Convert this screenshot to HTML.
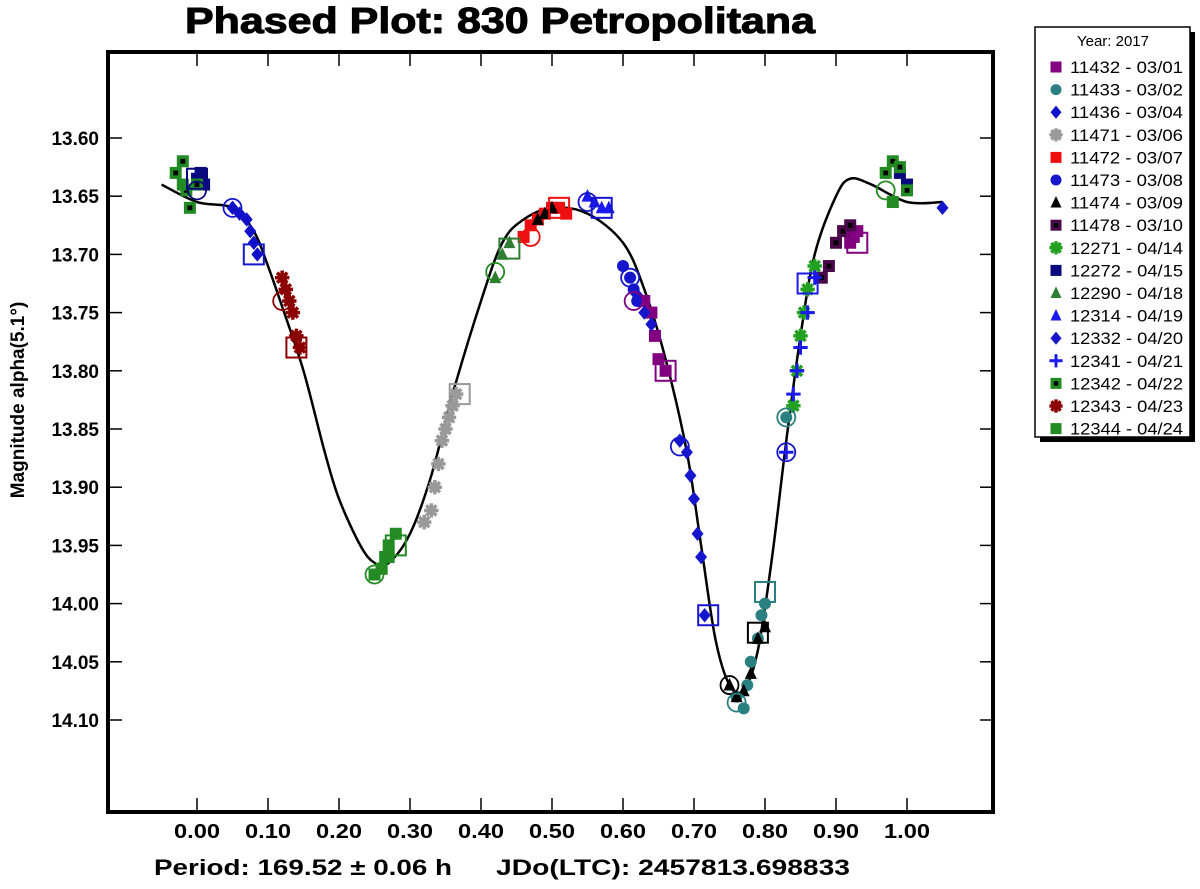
<!DOCTYPE html>
<html><head><meta charset="utf-8"><style>
html,body{margin:0;padding:0;background:#fff;}
svg{display:block;font-family:"Liberation Sans",Arial,sans-serif;}
</style></head><body>
<svg id="chart" width="1200" height="889" viewBox="0 0 1200 889" xmlns="http://www.w3.org/2000/svg">
<text x="185" y="33" font-size="36" font-weight="bold" textLength="630" lengthAdjust="spacingAndGlyphs" stroke="#000" stroke-width="1">Phased Plot: 830 Petropolitana</text>
<rect x="108" y="52" width="885" height="760" fill="none" stroke="#000" stroke-width="4"/>
<g id="ticks"></g>
<g id="curve"></g>
<g id="marks"></g>
<text transform="translate(24,400) rotate(-90)" text-anchor="middle" font-size="19" font-weight="bold">Magnitude alpha(5.1°)</text>
<text x="154" y="875" font-size="22" font-weight="bold" textLength="298" lengthAdjust="spacingAndGlyphs">Period: 169.52 ± 0.06 h</text>
<text x="496" y="875" font-size="22" font-weight="bold" textLength="354" lengthAdjust="spacingAndGlyphs">JDo(LTC): 2457813.698833</text>
<g id="legend">
<rect x="1040" y="32" width="155" height="410" fill="#000"/>
<rect x="1035" y="27" width="155" height="410" fill="#fff" stroke="#000" stroke-width="1.5"/>
<text x="1113" y="46" font-size="15" text-anchor="middle">Year: 2017</text>
</g>
</svg>
<script>
const xTicks=[0,0.1,0.2,0.3,0.4,0.5,0.6,0.7,0.8,0.9,1.0];
const xTickLabels=["0.00","0.10","0.20","0.30","0.40","0.50","0.60","0.70","0.80","0.90","1.00"];
const yTicks=[13.60,13.65,13.70,13.75,13.80,13.85,13.90,13.95,14.00,14.05,14.10];
const yTickLabels=["13.60","13.65","13.70","13.75","13.80","13.85","13.90","13.95","14.00","14.05","14.10"];
const curvePhase=[-0.05,0,0.05,0.08,0.1,0.12,0.15,0.18,0.2,0.23,0.25,0.27,0.3,0.33,0.36,0.4,0.43,0.46,0.5,0.55,0.6,0.63,0.66,0.69,0.71,0.73,0.75,0.77,0.79,0.81,0.83,0.85,0.87,0.9,0.92,0.95,1.0,1.05];
const curveMag=[13.64,13.655,13.66,13.68,13.71,13.745,13.80,13.87,13.91,13.95,13.965,13.965,13.94,13.89,13.82,13.74,13.69,13.67,13.66,13.665,13.69,13.73,13.79,13.87,13.95,14.03,14.07,14.075,14.04,13.96,13.86,13.77,13.70,13.65,13.635,13.64,13.655,13.655];
const seriesNames=["11432 - 03/01","11433 - 03/02","11436 - 03/04","11471 - 03/06","11472 - 03/07","11473 - 03/08","11474 - 03/09","11478 - 03/10","12271 - 04/14","12272 - 04/15","12290 - 04/18","12314 - 04/19","12332 - 04/20","12341 - 04/21","12342 - 04/22","12343 - 04/23","12344 - 04/24"];
const seriesPhase=[
 [0.63,0.64,0.645,0.65,0.66,0.92,0.925,0.93],
 [0.76,0.77,0.775,0.78,0.79,0.795,0.8,0.83],
 [0.05,0.06,0.07,0.075,0.08,0.085],
 [0.32,0.33,0.335,0.34,0.345,0.35,0.355,0.36,0.365],
 [0.46,0.47,0.48,0.49,0.5,0.51,0.52],
 [0.6,0.61,0.615,0.62],
 [0.48,0.49,0.5,0.75,0.76,0.77,0.78,0.79,0.8],
 [0.88,0.89,0.9,0.91,0.92],
 [0.84,0.845,0.85,0.855,0.86,0.87],
 [0.0,0.005,0.01,0.99,1.0],
 [0.42,0.43,0.44],
 [0.55,0.56,0.57,0.58],
 [0.62,0.63,0.64,0.68,0.69,0.695,0.7,0.705,0.71,0.715,1.05],
 [0.83,0.84,0.845,0.85,0.86,0.87],
 [-0.03,-0.02,-0.015,-0.01,0.0,0.97,0.98,0.99,1.0,0.26,0.27],
 [0.12,0.125,0.13,0.135,0.14,0.145],
 [0.25,0.26,0.265,0.27,0.28,-0.02,0.98]];
const seriesMag=[
 [13.74,13.75,13.77,13.79,13.80,13.69,13.685,13.68],
 [14.08,14.09,14.07,14.05,14.03,14.01,14.00,13.84],
 [13.66,13.665,13.67,13.68,13.69,13.70],
 [13.93,13.92,13.90,13.88,13.86,13.85,13.84,13.83,13.82],
 [13.685,13.675,13.67,13.665,13.66,13.66,13.665],
 [13.71,13.72,13.73,13.74],
 [13.67,13.665,13.66,14.07,14.08,14.075,14.06,14.03,14.02],
 [13.72,13.71,13.69,13.68,13.675],
 [13.83,13.80,13.77,13.75,13.73,13.71],
 [13.635,13.63,13.64,13.63,13.64],
 [13.72,13.70,13.69],
 [13.65,13.655,13.66,13.66],
 [13.735,13.75,13.76,13.86,13.87,13.89,13.91,13.94,13.96,14.01,13.66],
 [13.87,13.82,13.80,13.78,13.75,13.72],
 [13.63,13.62,13.645,13.66,13.64,13.63,13.62,13.625,13.645,13.97,13.96],
 [13.72,13.73,13.74,13.75,13.77,13.78],
 [13.975,13.97,13.96,13.95,13.94,13.64,13.655]];
const seriesColor=["#800080","#2a8080","#1010c8","#999999","#ee1010","#1515cc","#000000","#4a0a4a","#22a022","#0a0a80","#2e7d32","#1a1aee","#1515cc","#1a1aee","#238b23","#8b0000","#238b23"];
const seriesShape=["square","circle","diamond","star","square","circle","triangle","sqdot","star","square","triangle","triangle","diamond","plus","sqdot","star","square"];
const boxPhase=[0.0,0.08,0.14,0.28,0.37,0.44,0.51,0.57,0.66,0.72,0.8,0.86,0.93,0.79];
const boxMag=[13.635,13.70,13.78,13.95,13.82,13.695,13.66,13.66,13.80,14.01,13.99,13.725,13.69,14.025];
const boxColor=["#0a0a80","#1515cc","#8b0000","#238b23","#999","#2e7d32","#ee1010","#1515cc","#800080","#1515cc","#2a8080","#1a1aee","#800080","#000"];
const ringPhase=[0.05,0.12,0.25,0.42,0.47,0.55,0.61,0.615,0.68,0.75,0.76,0.83,0.83,0.97,0.0];
const ringMag=[13.66,13.74,13.975,13.715,13.685,13.655,13.72,13.74,13.865,14.07,14.085,13.84,13.87,13.645,13.645];
const ringColor=["#1515cc","#8b0000","#238b23","#238b23","#ee1010","#1515cc","#1515cc","#800080","#1515cc","#000","#2a8080","#2a8080","#1515cc","#238b23","#0a0a80"];

const NS="http://www.w3.org/2000/svg";
const X=p=>197+p*710;
const Y=m=>138+(m-13.6)*1164;
function mk(tag,attrs,parent){const e=document.createElementNS(NS,tag);for(const k in attrs)e.setAttribute(k,attrs[k]);parent.appendChild(e);return e;}
const ticks=document.getElementById('ticks');
xTicks.forEach((t,i)=>{
 const a=mk('line',{x1:X(t),x2:X(t),y1:52,y2:66,stroke:'#000','stroke-width':1.5},ticks);
 
 
 const b=mk('line',{x1:X(t),x2:X(t),y1:798,y2:812,stroke:'#000','stroke-width':1.5},ticks);
 
 
 const l=mk('text',{x:X(t)-23,y:838,'font-size':20,'font-weight':'bold',textLength:46,lengthAdjust:'spacingAndGlyphs'},ticks);
 l.textContent=xTickLabels[i];
 
 
});
yTicks.forEach((t,i)=>{
 const a=mk('line',{x1:108,x2:122,y1:Y(t),y2:Y(t),stroke:'#000','stroke-width':1.5},ticks);
 
 
 const b=mk('line',{x1:980,x2:993,y1:Y(t),y2:Y(t),stroke:'#000','stroke-width':1.5},ticks);
 
 
 const l=mk('text',{x:99,y:Y(t)+7,'font-size':19,'font-weight':'bold','text-anchor':'end'},ticks);
 l.textContent=yTickLabels[i];
 
 
});
const pts=curvePhase.map((p,i)=>[X(p),Y(curveMag[i])]);
let d='M'+pts[0][0]+','+pts[0][1];
for(let i=0;i<pts.length-1;i++){
 const p0=pts[Math.max(0,i-1)],p1=pts[i],p2=pts[i+1],p3=pts[Math.min(pts.length-1,i+2)];
 d+=' C'+(p1[0]+(p2[0]-p0[0])/6)+','+(p1[1]+(p2[1]-p0[1])/6)+' '+(p2[0]-(p3[0]-p1[0])/6)+','+(p2[1]-(p3[1]-p1[1])/6)+' '+p2[0]+','+p2[1];
}
const cv=mk('path',{d:d,fill:'none',stroke:'#000','stroke-width':2.5},document.getElementById('curve'));



function marker(parent,shape,color,x,y,s){
 const g=mk('g',{},parent);
 if(shape==='square'){mk('rect',{x:x-s,y:y-s,width:2*s,height:2*s,fill:color},g);}
 else if(shape==='sqdot'){mk('rect',{x:x-s,y:y-s,width:2*s,height:2*s,fill:color},g);mk('rect',{x:x-s/2.5,y:y-s/2.5,width:s/1.25,height:s/1.25,fill:'#000'},g);}
 else if(shape==='circle'){mk('circle',{cx:x,cy:y,r:s,fill:color},g);}
 else if(shape==='diamond'){mk('polygon',{points:`${x},${y-s*1.2} ${x+s},${y} ${x},${y+s*1.2} ${x-s},${y}`,fill:color},g);}
 else if(shape==='triangle'){mk('polygon',{points:`${x},${y-s*1.2} ${x+s},${y+s*0.9} ${x-s},${y+s*0.9}`,fill:color},g);}
 else if(shape==='plus'){mk('path',{d:`M${x-s*1.2},${y}H${x+s*1.2}M${x},${y-s*1.2}V${y+s*1.2}`,stroke:color,'stroke-width':3},g);}
 else if(shape==='star'){let dd='';for(let k=0;k<4;k++){const a=k*Math.PI/4;dd+=`M${x-Math.cos(a)*s*1.2},${y-Math.sin(a)*s*1.2}L${x+Math.cos(a)*s*1.2},${y+Math.sin(a)*s*1.2}`;}mk('path',{d:dd,stroke:color,'stroke-width':3.5},g);}
 return g;
}
const marks=document.getElementById('marks');
seriesPhase.forEach((arr,si)=>{
 arr.forEach((p,j)=>{
  const g=marker(marks,seriesShape[si],seriesColor[si],X(p),Y(seriesMag[si][j]),6);
  
  
 });
});
boxPhase.forEach((p,i)=>{
 const r=mk('rect',{x:X(p)-10,y:Y(boxMag[i])-10,width:20,height:20,fill:'none',stroke:boxColor[i],'stroke-width':2},marks);
 
 
});
ringPhase.forEach((p,i)=>{
 const c=mk('circle',{cx:X(p),cy:Y(ringMag[i]),r:9,fill:'none',stroke:ringColor[i],'stroke-width':1.8},marks);
 
 
});
const leg=document.getElementById('legend');
seriesNames.forEach((n,i)=>{
 const y=67+i*22.6;
 const g=marker(leg,seriesShape[i],seriesColor[i],1056,y,5.5);
 
 
 const t=mk('text',{x:1070,y:y+6,'font-size':17,textLength:113,lengthAdjust:'spacingAndGlyphs'},leg);
 t.textContent=n;
 
 
});
</script>
</body></html>
